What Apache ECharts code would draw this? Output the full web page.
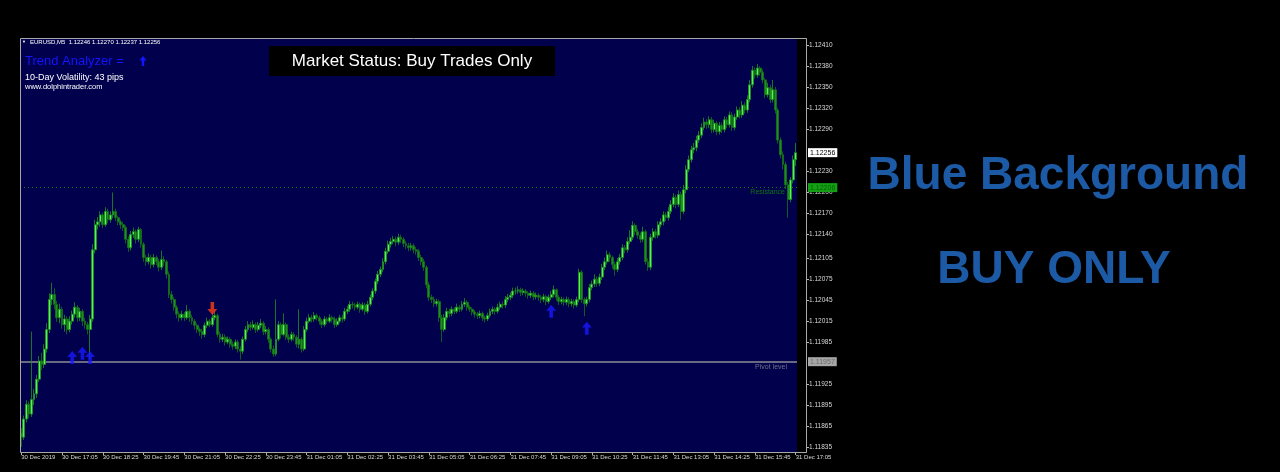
<!DOCTYPE html>
<html>
<head>
<meta charset="utf-8">
<script src="https://cdn.jsdelivr.net/npm/echarts@6/dist/echarts.min.js"></script>
<style>
  html, body { margin: 0; padding: 0; background: #000; }
  #chart { width: 1280px; height: 472px; }
</style>
</head>
<body>
<div id="chart"></div>
<script>
// Prices are given in points (0.00001) above this base price
const PRICE_BASE = 1.118;

// M5 candles, EURUSD, 30 Dec 2019 15:45 -> 31 Dec 17:05
const opensPts = [
55,49,75,96,82,103,111,132,158,153,
175,203,246,253,239,220,232,210,218,203,
215,225,235,220,229,215,210,203,218,317,
353,357,367,353,372,360,367,372,363,357,
353,349,332,320,339,343,332,346,325,306,
300,306,296,306,300,292,303,300,282,253,
246,235,225,220,225,220,229,220,215,209,
203,200,196,209,215,210,220,223,196,189,
192,185,189,182,179,185,175,172,189,203,
210,206,210,203,209,212,200,203,189,175,
168,189,210,196,210,192,189,196,192,182,
189,175,203,215,220,218,223,220,215,210,
218,215,220,218,210,215,220,218,229,232,
239,238,235,239,232,238,229,239,249,258,
272,282,289,300,315,325,329,332,328,335,
332,326,323,320,323,317,315,306,300,292,
267,249,246,240,243,220,203,220,229,226,
232,229,235,232,239,242,235,232,228,225,
223,226,220,218,223,229,232,229,235,239,
238,246,249,252,258,258,260,256,258,255,
252,255,250,252,249,246,250,243,249,253,
260,249,243,246,242,246,240,243,238,246,
285,246,240,246,263,268,275,269,278,292,
300,310,306,296,289,300,306,320,317,329,
335,352,343,338,332,343,300,292,335,343,
338,353,357,367,363,372,382,392,382,396,
372,403,432,446,460,463,474,481,492,500,
496,503,489,498,486,495,489,503,496,510,
492,507,517,510,524,517,532,553,574,567,
577,571,560,539,549,532,546,517,474,453,
439,410,389,417,446
];
const closesPts = [
49,75,96,82,103,111,132,158,153,175,
203,246,253,239,220,232,210,218,203,215,
225,235,220,229,215,210,203,218,317,353,
357,367,353,372,360,367,372,363,357,353,
349,332,320,339,343,332,346,325,306,300,
306,296,306,300,292,303,300,282,253,246,
235,225,220,225,220,229,220,215,209,203,
200,196,209,215,210,220,223,196,189,192,
185,189,182,179,185,175,172,189,203,210,
206,210,203,209,212,200,203,189,175,168,
189,210,196,210,192,189,196,192,182,189,
175,203,215,220,218,223,220,215,210,218,
215,220,218,210,215,220,218,229,232,239,
238,235,239,232,238,229,239,249,258,272,
282,289,300,315,325,329,332,328,335,332,
326,323,320,323,317,315,306,300,292,267,
249,246,240,243,220,203,220,229,226,232,
229,235,232,239,242,235,232,228,225,223,
226,220,218,223,229,232,229,235,239,238,
246,249,252,258,258,260,256,258,255,252,
255,250,252,249,246,250,243,249,253,260,
249,243,246,242,246,240,243,238,246,285,
246,240,246,263,268,275,269,278,292,300,
310,306,296,289,300,306,320,317,329,335,
352,343,338,332,343,300,292,335,343,338,
353,357,367,363,372,382,392,382,396,372,
403,432,446,460,463,474,481,492,500,496,
503,489,498,486,495,489,503,496,510,492,
507,517,510,524,517,532,553,574,567,577,
571,560,539,549,532,546,517,474,453,439,
410,389,417,446,456
];
const lowsPts = [
35,45,70,76,78,95,105,128,145,148,
170,198,238,232,214,212,204,200,196,199,
210,220,214,215,208,204,196,160,214,312,
346,350,348,350,355,356,362,358,352,347,
344,326,314,316,334,326,328,320,300,294,
296,290,292,295,286,288,294,276,248,240,
230,219,214,216,215,217,214,210,203,198,
194,190,192,205,206,207,216,192,184,185,
180,182,177,174,175,170,160,168,186,199,
201,203,198,200,205,195,196,184,170,164,
165,186,190,193,188,184,186,187,177,176,
170,172,200,212,213,214,216,210,205,207,
211,212,213,205,207,212,213,215,225,228,
233,230,232,227,229,224,226,236,245,254,
268,278,285,296,311,320,325,322,324,327,
321,318,315,316,312,310,301,295,287,262,
244,241,235,236,214,185,200,216,221,222,
225,226,228,229,235,230,228,223,220,218,
219,215,213,215,220,225,224,226,231,233,
234,242,245,248,253,254,251,252,250,247,
248,245,246,244,241,242,238,240,245,249,
244,238,239,237,238,235,236,233,235,242,
241,222,236,242,259,264,264,265,274,288,
296,300,290,280,285,296,302,312,313,325,
331,338,333,327,328,296,287,288,330,333,
334,349,352,358,359,368,378,376,378,360,
368,398,428,442,455,458,470,477,488,490,
491,484,485,481,482,484,485,491,492,487,
488,503,505,506,512,513,528,549,562,563,
566,555,534,535,527,528,512,469,448,432,
404,363,385,412,437
];
const highsPts = [
62,80,102,100,200,118,138,165,170,182,
212,255,270,262,244,240,236,224,222,222,
230,242,238,234,232,220,214,224,325,360,
364,372,370,378,376,372,399,376,366,360,
357,352,336,344,349,346,350,348,328,310,
312,310,311,309,304,316,308,303,286,258,
250,238,229,230,228,238,232,224,218,212,
206,204,213,220,218,226,230,226,200,197,
196,193,192,186,189,188,179,193,208,215,
214,216,213,214,218,215,208,206,192,180,
246,215,213,226,213,196,200,199,195,232,
192,208,220,225,224,228,226,223,218,222,
221,225,223,221,219,224,224,234,237,244,
243,241,243,242,242,241,244,253,262,276,
287,293,305,320,330,334,337,336,340,339,
335,330,327,327,326,321,318,310,304,295,
271,253,250,247,246,224,225,234,233,236,
235,240,238,244,248,245,238,235,231,228,
230,229,223,227,233,236,235,240,243,243,
251,254,256,263,263,265,263,262,261,258,
259,258,256,255,252,254,253,253,258,266,
262,252,250,249,250,249,247,246,250,290,
288,249,250,268,273,282,279,283,297,306,
316,314,309,300,305,311,325,324,335,345,
358,355,347,342,350,346,305,340,348,347,
358,362,372,371,378,388,398,396,402,400,
410,438,452,466,470,480,487,498,506,504,
508,507,503,501,500,499,508,507,515,514,
512,522,521,530,528,538,560,580,578,583,
580,575,563,556,553,560,550,520,478,458,
443,414,421,452,470
];

// Time axis tick labels (every 16 bars)
const timeLabels = [
'30 Dec 2019','30 Dec 17:05','30 Dec 18:25','30 Dec 19:45','30 Dec 21:05',
'30 Dec 22:25','30 Dec 23:45','31 Dec 01:05','31 Dec 02:25','31 Dec 03:45',
'31 Dec 05:05','31 Dec 06:25','31 Dec 07:45','31 Dec 09:05','31 Dec 10:25',
'31 Dec 11:45','31 Dec 13:05','31 Dec 14:25','31 Dec 15:45','31 Dec 17:05'
];
const LABEL_EVERY = 16;

// Price axis tick labels
const priceTicks = [
'1.12410','1.12380','1.12350','1.12320','1.12290','1.12230','1.12200',
'1.12170','1.12140','1.12105','1.12075','1.12045','1.12015','1.11985',
'1.11925','1.11895','1.11865','1.11835'
];
const priceMin = 1.118278, priceMax = 1.124186;

// Levels
const pivotLevel = '1.11957';
const resistanceLevel = '1.12206';
const currentPrice = '1.12256';

// Signal arrows: [bar index, price in points above base]
const buyArrowsPts = [[20,163],[24,169],[27,163],[208,229],[222,205]];
const sellArrowsPts = [[75,233]];

const toPrice = v => +(PRICE_BASE + v / 1e5).toFixed(5);
const categories = closesPts.map((_, i) => i);
const candles = closesPts.map((c, i) => [toPrice(opensPts[i]), toPrice(c), toPrice(lowsPts[i]), toPrice(highsPts[i])]);
const buyArrows = buyArrowsPts.map(p => [p[0], toPrice(p[1])]);
const sellArrows = sellArrowsPts.map(p => [p[0], toPrice(p[1])]);

const FONT = 'Liberation Sans';
const UP_ARROW = 'path://M5,0 L10,5.5 L6.8,5.5 L6.8,12 L3.2,12 L3.2,5.5 L0,5.5 Z';
const DOWN_ARROW = 'path://M5,12 L10,6.5 L6.8,6.5 L6.8,0 L3.2,0 L3.2,6.5 L0,6.5 Z';
const boxLabel = (text, bg, fg) => ({ show: true, position: 'end', distance: 11, formatter: text, backgroundColor: bg, color: fg, fontSize: 7, fontFamily: FONT, padding: [1, 2] });
const hiddenLine = { width: 0, color: 'rgba(0,0,0,0)' };

const chart = echarts.init(document.getElementById('chart'), null, { renderer: 'canvas' });
chart.setOption({
  backgroundColor: '#000000',
  animation: false,
  grid: { left: 20, top: 39, width: 777, height: 413, show: true, backgroundColor: '#00004c', borderWidth: 0 },
  xAxis: {
    type: 'category',
    data: categories,
    boundaryGap: true,
    axisLine: { show: false },
    axisTick: { show: true, alignWithLabel: true, interval: LABEL_EVERY - 1, length: 3, lineStyle: { color: '#b0b0b0' } },
    axisLabel: {
      interval: LABEL_EVERY - 1,
      showMaxLabel: true,
      hideOverlap: false,
      align: 'left',
      margin: 2,
      fontSize: 6,
      fontFamily: FONT,
      color: '#d8d8d8',
      formatter: (v, idx) => (idx % LABEL_EVERY === 0 ? timeLabels[idx / LABEL_EVERY] : '')
    },
    splitLine: { show: false }
  },
  yAxis: {
    type: 'value',
    position: 'right',
    offset: 9,
    min: priceMin,
    max: priceMax,
    scale: true,
    axisLine: { show: true, lineStyle: { color: '#b8b8b8' } },
    axisTick: { show: true, length: 3, customValues: priceTicks.map(Number), lineStyle: { color: '#b8b8b8' } },
    axisLabel: {
      customValues: priceTicks.map(Number),
      formatter: v => v.toFixed(5),
      fontSize: 6.5,
      fontFamily: FONT,
      color: '#d8d8d8',
      margin: 3
    },
    splitLine: { show: false }
  },
  series: [
    {
      type: 'candlestick',
      data: candles,
      barWidth: 2.4,
      large: false,
      progressive: 0,
      emphasis: { disabled: true },
      itemStyle: {
        color: '#5cf05c',
        color0: '#1f8f1f',
        borderColor: '#1d931d',
        borderColor0: '#167216',
        borderColorDoji: '#1d931d',
        borderWidth: 0.8
      }
    },
    {
      type: 'scatter',
      data: buyArrows,
      symbol: UP_ARROW,
      symbolSize: [10, 13],
      itemStyle: { color: '#1818ff' },
      silent: true,
      z: 3,
      markLine: {
        symbol: 'none',
        silent: true,
        animation: false,
        precision: 5,
        z: 1,
        data: [
          { yAxis: Number(pivotLevel), lineStyle: { color: '#8c8c96', width: 1.5, type: 'solid' },
            label: boxLabel(pivotLevel, '#a6a6a6', '#6c6c6c') },
          { yAxis: Number(pivotLevel), lineStyle: hiddenLine,
            label: { show: true, position: 'insideEndBottom', distance: [10, 2], formatter: 'Pivot level', color: '#72728a', fontSize: 7, fontFamily: FONT } },
          { yAxis: Number(resistanceLevel), lineStyle: { color: '#0d7d0d', width: 1, type: [1, 3] },
            label: boxLabel(resistanceLevel, '#13a013', '#0a5c0a') },
          { yAxis: Number(resistanceLevel), lineStyle: hiddenLine,
            label: { show: true, position: 'insideEndBottom', distance: [12, 1], formatter: 'Resistance', color: '#107410', fontSize: 7, fontFamily: FONT } },
          { yAxis: Number(currentPrice), lineStyle: hiddenLine,
            label: boxLabel(currentPrice, '#ffffff', '#000000') }
        ]
      }
    },
    {
      type: 'scatter',
      data: sellArrows,
      symbol: DOWN_ARROW,
      symbolSize: [10, 13],
      itemStyle: { color: '#ff3c14' },
      silent: true,
      z: 3
    }
  ],
  graphic: [
    { type: 'rect', z: 100, silent: true, shape: { x: 20.5, y: 38.5, width: 786, height: 414 }, style: { fill: 'none', stroke: '#a8a8a8', lineWidth: 1 } },
    { type: 'text', z: 100, left: 22, top: 40, style: { text: '▼', fill: '#ffffff', font: '4px ' + FONT } },
    { type: 'text', z: 100, left: 30, top: 39.5, style: { text: 'EURUSD,M5  1.12246 1.12270 1.12237 1.12256', fill: '#ffffff', font: '6px ' + FONT } },
    { type: 'text', z: 100, left: 25, top: 55, style: { text: 'Trend Analyzer =', fill: '#1414ff', font: '13px ' + FONT } },
    { type: 'polygon', z: 100, shape: { points: [[143, 56], [146.5, 60.5], [144.2, 60.5], [144.2, 66], [141.8, 66], [141.8, 60.5], [139.5, 60.5]] }, style: { fill: '#1414ff' } },
    { type: 'text', z: 100, left: 25, top: 73, style: { text: '10-Day Volatility: 43 pips', fill: '#ffffff', font: '9px ' + FONT } },
    { type: 'text', z: 100, left: 25, top: 83, style: { text: 'www.dolphintrader.com', fill: '#ffffff', font: '7.5px ' + FONT } },
    { type: 'rect', z: 100, shape: { x: 269, y: 46, width: 286, height: 30 }, style: { fill: '#000000' } },
    { type: 'text', z: 101, x: 412, y: 61, style: { text: 'Market Status: Buy Trades Only', fill: '#ffffff', font: '17px ' + FONT, textAlign: 'center', textVerticalAlign: 'middle' } },
    { type: 'text', z: 100, x: 1058, y: 176, style: { text: 'Blue Background', fill: '#1c5aa6', font: 'bold 46px ' + FONT, textAlign: 'center', textVerticalAlign: 'middle' } },
    { type: 'text', z: 100, x: 1054, y: 270, style: { text: 'BUY ONLY', fill: '#1c5aa6', font: 'bold 46px ' + FONT, textAlign: 'center', textVerticalAlign: 'middle' } }
  ]
});
</script>
</body>
</html>
